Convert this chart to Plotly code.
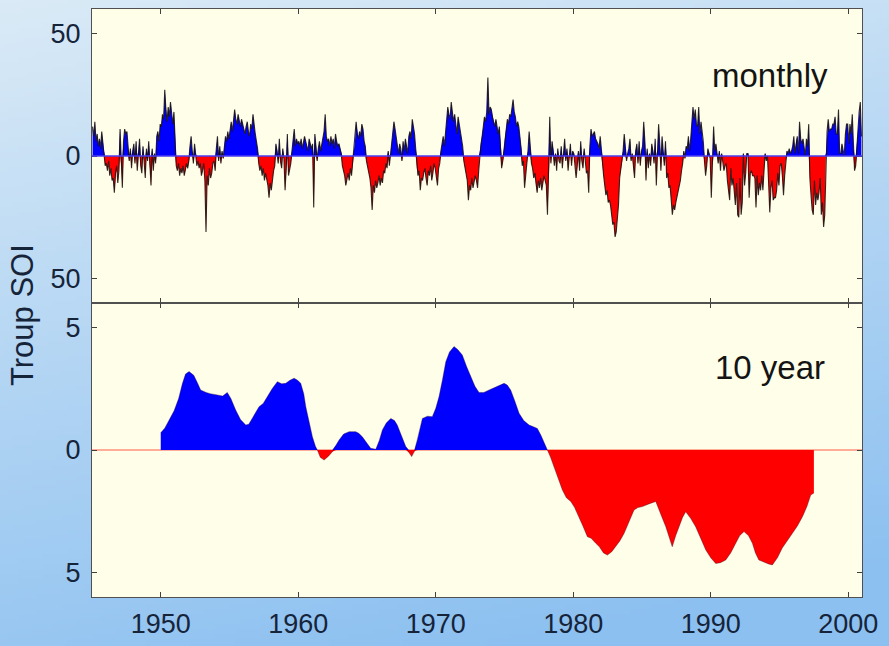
import zlib, struct, base64
import numpy as np
import plotly.graph_objects as go
from plotly.subplots import make_subplots

# ---------------- data ----------------
start_year = 1945
soi_1940s = [
    12, 8, 14, 6, 9, 4, 7, 3, 10, 5, 2, -4,            # 1945
    -3, -6, -2, -8, -5, -10, -9, -15, -7, -4, -11, -6,  # 1946
    11, -4, -13, 6, 11, 9, 10, 4, -2, 3, -5, 2,         # 1947
    5, -3, 6, -6, 2, 7, -4, -7, 4, -2, -9, 3,           # 1948
    -2, 6, -5, -12, 3, -6, 1, -3, 8, 10, 6, 13,         # 1949
]
soi_1950s = [
    12, 17, 15, 27, 19, 14, 20, 16, 22, 17, 13, 18,
    5, -4, -6, -3, -8, -5, -7, -4, -8, -6, -3, -5,
    -2, 4, 8, 2, -3, 5, 1, -4, -2, -5, -3, -8,
    -6, -3, -10, -31, -8, -12, -5, -9, -7, -3, -2, -6,
    3, 8, -2, 4, -3, 2, -1, 5, 8, 6, 10, 7,
    12, 14, 10, 16, 19, 15, 13, 17, 14, 12, 15, 13,
    11, 9, 12, 14, 10, 8, 13, 11, 17, 12, 9, 6,
    3, -3, -6, -4, -8, -5, -10, -7, -9, -12, -17, -11,
    -14, -9, -6, -4, 5, 2, -3, 7, -2, -5, 3, -1,
    -14, -5, 9, -8, -6, -3, 2, 6, 11, 4, 7, 5,
]
soi_1960s = [
    6, 4, 7, 3, 5, 8, 6, 4, 2, 7, 5, 3,
    5, -21, 9, 4, -2, 3, 6, 2, 5, 8, 10, 17,
    8, 6, 7, 4, 8, 5, 7, 3, 9, 6, 4, 5,
    3, 1, -4, -6, -8, -12, -9, -7, -10, -5, -8, -3,
    2, 6, 14, 9, 7, 10, 8, 13, 11, 6, 4, -2,
    -4, -6, -9, -13, -22, -12, -15, -10, -13, -11, -8, -12,
    -9, -11, -6, -7, -3, -5, 2, -4, 1, 6, 10, 14,
    11, 8, 4, 1, 5, 3, -2, 6, 2, 7, 4, 1,
    8, 10, 7, 15, 12, 9, 3, -5, -8, -6, -14, -9,
    -10, -7, -5, -9, -12, -6, -8, -4, -10, -7, -3, -5,
]
soi_1970s = [
    -8, -12, -5, -3, 2, 5, 8, 4, 10, 14, 20, 17,
    15, 22, 18, 14, 17, 13, 9, 16, 12, 10, 7, 4,
    -2, -5, -8, -10, -18, -12, -14, -9, -13, -11, -8, -10,
    -13, -6, 2, 5, 8, 12, 16, 14, 18, 32, 17, 20,
    19, 16, 14, 12, 15, 11, 9, 12, 4, -5, -2, 3,
    8, 12, 15, 13, 17, 16, 20, 23, 18, 16, 12, 14,
    12, 8, 3, -4, -2, -13, -6, -3, 2, 10, 4, -3,
    -5, -9, -7, -12, -15, -10, -13, -9, -14, -11, -8, -10,
    -12, -24, -8, 16, -3, 6, 2, -4, 1, -6, 3, -2,
    -3, 4, -5, 1, 7, -2, 3, -6, -1, 5, -4, 2,
]
soi_1980s = [
    1, -3, -9, -4, 2, -6, 6, -2, -5, 3, -1, -7,
    -6, -15, 4, 11, 8, 9, 10, 7, 6, 5, 3, 8,
    3, -4, -8, -12, -16, -14, -19, -18, -20, -24, -28, -27,
    -33, -31, -26, -20, -9, -5, -3, 2, 9, 4, -2, 1,
    3, 7, -2, 1, -5, -9, 2, 5, -3, 6, -4, 2,
    4, 14, 6, -10, 3, -5, 1, -4, 5, 2, -3, 7,
    -12, 3, 13, 5, -6, 8, 2, -4, 6, -9, -7, -13,
    -12, -18, -24, -20, -22, -19, -17, -15, -13, -10, -6, -3,
    2, -1, 4, 3, 8, 2, 7, 14, 20, 15, 19, 13,
    12, 20, 9, 14, 10, 6, -2, -8, -4, 3, 1, -1,
]
soi_1990s = [
    -17, -4, 12, 2, 5, 1, -3, 2, -6, 1, -2, -6,
    -4, -3, -10, -15, -18, -5, -12, -9, -17, -20, -11, -24,
    -25, -9, -24, -19, 1, -12, -7, 1, 1, -17, -7, -6,
    -8, -8, -9, -21, -8, -16, -11, -14, -8, -14, -6, 1,
    -2, 0, -11, -23, -13, -10, -18, -17, -17, -14, -7, -12,
    -4, -3, -8, -16, -8, -2, 2, 1, 3, 1, 2, 4,
    8, 1, 6, 8, 1, 14, 7, 5, 7, 4, 0, 7,
    4, 13, -9, -16, -22, -24, -10, -20, -15, -18, -15, -9,
    -24, -19, -29, -24, 1, 10, 15, 10, 11, 11, 13, 13,
    16, 9, 9, 19, 1, 1, 5, 2, 0, 9, 13, 13,
]
soi_2000s = [
    5, 13, 9, 17, 4, -6, -4, 5, 10, 18, 22, 8,
]

decadal_years = [
    1950.0, 1950.3, 1950.97, 1951.3, 1951.57, 1951.8, 1952.06, 1952.4, 1952.7, 1952.9,
    1953.3, 1953.6, 1954.1, 1954.5, 1954.84, 1955.1, 1955.45, 1955.8, 1956.18, 1956.4,
    1956.66, 1957.15, 1957.45, 1957.75, 1958.1, 1958.48, 1958.8, 1959.09, 1959.4, 1959.7,
    1959.95, 1960.18, 1960.4, 1960.55, 1960.8, 1961.03, 1961.25, 1961.39, 1961.6, 1961.88,
    1962.2, 1962.48, 1962.75, 1962.97, 1963.3, 1963.7, 1964.18, 1964.4, 1964.66, 1964.95,
    1965.27, 1965.64, 1965.9, 1966.12, 1966.4, 1966.73, 1967.0, 1967.2, 1967.5, 1967.82,
    1968.05, 1968.25, 1968.45, 1968.66, 1968.85, 1969.03, 1969.4, 1969.75, 1970.0, 1970.24,
    1970.5, 1970.73, 1971.0, 1971.33, 1971.6, 1971.93, 1972.25, 1972.55, 1972.85, 1973.15,
    1973.5, 1973.88, 1974.25, 1974.6, 1974.97, 1975.2, 1975.45, 1975.75, 1976.06, 1976.4,
    1976.79, 1977.1, 1977.39, 1977.65, 1977.88, 1978.12, 1978.35, 1978.6, 1978.9, 1979.21,
    1979.5, 1979.82, 1980.1, 1980.42, 1980.7, 1981.03, 1981.3, 1981.64, 1981.9, 1982.2,
    1982.48, 1982.8, 1983.09, 1983.4, 1983.7, 1984.05, 1984.42, 1984.7, 1985.03, 1985.5,
    1986.0, 1986.35, 1986.73, 1987.0, 1987.2, 1987.45, 1987.7, 1987.95, 1988.18, 1988.55,
    1988.9, 1989.25, 1989.64, 1990.0, 1990.36, 1990.7, 1991.09, 1991.45, 1991.82, 1992.1,
    1992.42, 1992.75, 1993.03, 1993.25, 1993.5, 1993.9, 1994.2, 1994.48, 1994.85, 1995.2,
    1995.6, 1995.94, 1996.3, 1996.67, 1997.0, 1997.27, 1997.5,
]
decadal_values = [
    0.7, 0.9, 1.6, 2.1, 2.7, 3.1, 3.2, 3.05, 2.7, 2.45,
    2.35, 2.3, 2.25, 2.2, 2.35, 2.1, 1.63, 1.25, 1.02, 1.05,
    1.3, 1.77, 1.9, 2.18, 2.5, 2.79, 2.7, 2.72, 2.85, 2.93,
    2.85, 2.72, 2.3, 1.77, 1.1, 0.54, 0.15, 0.0, -0.3, -0.41,
    -0.25, -0.07, 0.2, 0.41, 0.65, 0.75, 0.75, 0.68, 0.54, 0.3,
    0.07, 0.03, 0.4, 0.82, 1.1, 1.29, 1.2, 1.02, 0.6, 0.14,
    -0.1, -0.27, -0.05, 0.41, 0.9, 1.29, 1.38, 1.36, 1.7, 2.18,
    2.9, 3.6, 4.0, 4.22, 4.1, 3.88, 3.4, 2.99, 2.6, 2.35,
    2.35, 2.45, 2.55, 2.65, 2.72, 2.65, 2.45, 2.0, 1.5, 1.2,
    1.02, 0.95, 0.88, 0.6, 0.27, 0.0, -0.3, -0.68, -1.1, -1.63,
    -1.95, -2.1, -2.35, -2.72, -3.1, -3.54, -3.6, -3.81, -3.95, -4.2,
    -4.29, -4.15, -3.95, -3.7, -3.4, -2.9, -2.45, -2.35, -2.31, -2.2,
    -2.1, -2.6, -3.13, -3.6, -3.95, -3.5, -3.13, -2.75, -2.52, -2.8,
    -3.13, -3.6, -4.08, -4.4, -4.63, -4.6, -4.49, -4.2, -3.81, -3.5,
    -3.33, -3.5, -3.81, -4.2, -4.49, -4.6, -4.65, -4.69, -4.4, -4.0,
    -3.7, -3.4, -3.1, -2.72, -2.3, -1.84, -1.75,
]

x_ticks = [1950, 1960, 1970, 1980, 1990, 2000]
top_tickvals = [-50, 0, 50]
top_ticktext = ["50", "0", "50"]
bot_tickvals = [-5, 0, 5]
bot_ticktext = ["5", "0", "5"]

# ---------------- derived ----------------
soi = np.array(soi_1940s + soi_1950s + soi_1960s + soi_1970s + soi_1980s + soi_1990s + soi_2000s, float)
t = start_year + np.arange(len(soi)) / 12.0 + 1 / 24.0
dy = np.array(decadal_years)
dv = np.array(decadal_values)

BLUE = "#0000ff"
RED = "#ff0000"
FONT = "Liberation Sans, Arial, Helvetica, sans-serif"
TXT = "#16243a"


def gradient_png(w, h):
    c0 = np.array([218, 234, 246], float)
    c1 = np.array([140, 192, 240], float)
    raw = bytearray()
    for j in range(h):
        raw.append(0)
        v = j / (h - 1)
        for i in range(w):
            u = i / (w - 1)
            s = min(1.0, 0.85 * v + 0.25 * u)
            c = c0 + (c1 - c0) * s
            raw.extend(bytes(int(round(k)) for k in c))

    def chunk(tag, data):
        body = tag + data
        return struct.pack(">I", len(data)) + body + struct.pack(">I", zlib.crc32(body) & 0xFFFFFFFF)

    png = (b"\x89PNG\r\n\x1a\n"
           + chunk(b"IHDR", struct.pack(">IIBBBBB", w, h, 8, 2, 0, 0, 0))
           + chunk(b"IDAT", zlib.compress(bytes(raw), 9))
           + chunk(b"IEND", b""))
    return "data:image/png;base64," + base64.b64encode(png).decode()


fig = make_subplots(rows=2, cols=1, shared_xaxes=True, vertical_spacing=0)

# monthly
fig.add_trace(go.Scatter(x=t, y=np.maximum(soi, 0), mode="lines", line=dict(width=0, color=BLUE),
                         fill="tozeroy", fillcolor=BLUE, hoverinfo="skip"), row=1, col=1)
fig.add_trace(go.Scatter(x=t, y=np.minimum(soi, 0), mode="lines", line=dict(width=0, color=RED),
                         fill="tozeroy", fillcolor=RED, hoverinfo="skip"), row=1, col=1)
fig.add_trace(go.Scatter(x=t, y=soi, mode="lines", line=dict(width=1.1, color="rgba(20,10,10,0.85)")),
              row=1, col=1)

# 10 year
fig.add_trace(go.Scatter(x=dy, y=np.maximum(dv, 0), mode="lines", line=dict(width=0, color=BLUE),
                         fill="tozeroy", fillcolor=BLUE, hoverinfo="skip"), row=2, col=1)
fig.add_trace(go.Scatter(x=dy, y=np.minimum(dv, 0), mode="lines", line=dict(width=0, color=RED),
                         fill="tozeroy", fillcolor=RED, hoverinfo="skip"), row=2, col=1)
fig.add_trace(go.Scatter(x=dy, y=dv, mode="lines", line=dict(width=0.8, color="rgba(40,0,40,0.45)")),
              row=2, col=1)

axis_common = dict(ticks="inside", ticklen=5, tickwidth=1, tickcolor="#404040", showline=True,
                   linecolor="#505050", linewidth=1, mirror="ticks", showgrid=False, zeroline=False,
                   automargin=False, tickfont=dict(family=FONT, size=27, color=TXT))
fig.update_xaxes(range=[1945, 2001], tickvals=x_ticks, **axis_common)
fig.update_xaxes(showticklabels=False, row=1, col=1)
fig.update_xaxes(ticklabelstandoff=3, row=2, col=1)
fig.update_yaxes(range=[-60, 60], tickvals=top_tickvals, ticktext=top_ticktext, ticklabelstandoff=5,
                 row=1, col=1, **axis_common)
fig.update_yaxes(range=[-6, 6], tickvals=bot_tickvals, ticktext=bot_ticktext, ticklabelstandoff=5,
                 row=2, col=1, **axis_common)

shapes = [
    dict(type="rect", xref="x domain", yref="y domain", x0=0, x1=1, y0=0, y1=1,
         fillcolor="#fefee9", line=dict(width=0), layer="below"),
    dict(type="rect", xref="x2 domain", yref="y2 domain", x0=0, x1=1, y0=0, y1=1,
         fillcolor="#fefee9", line=dict(width=0), layer="below"),
    dict(type="line", xref="x domain", yref="y", x0=0, x1=1, y0=0, y1=0,
         line=dict(color="#4a3cf0", width=1.5), layer="above"),
    dict(type="line", xref="x2 domain", yref="y2", x0=0, x1=1, y0=0, y1=0,
         line=dict(color="#ff5a4a", width=1.2), layer="below"),
]

W, H = 889, 646
ml, mr, mt, mb = 92, 27, 9, 49
pw, ph = W - ml - mr, H - mt - mb

fig.update_layout(
    width=W, height=H, margin=dict(l=ml, r=mr, t=mt, b=mb, autoexpand=False),
    paper_bgcolor="#b4d6f2", plot_bgcolor="#fefee9", showlegend=False,
    shapes=shapes,
    images=[dict(source=gradient_png(180, 130), xref="paper", yref="paper",
                 x=-ml / pw, y=1 + mt / ph, sizex=W / pw, sizey=H / ph,
                 xanchor="left", yanchor="top", sizing="stretch", layer="below")],
    annotations=[
        dict(text="monthly", x=1994.3, y=33, xref="x", yref="y", showarrow=False,
             font=dict(family=FONT, size=33, color="#141414")),
        dict(text="10 year", x=1994.3, y=3.35, xref="x2", yref="y2", showarrow=False,
             font=dict(family=FONT, size=33, color="#141414")),
        dict(text="Troup SOI", x=(22 - ml) / pw, y=(H - mb - 315) / ph, xref="paper", yref="paper",
             textangle=-90, showarrow=False, xanchor="center", yanchor="middle",
             font=dict(family=FONT, size=31, color=TXT)),
    ],
)

fig.write_html("out.html", config={"displayModeBar": False},
               post_script="document.body.style.margin='0';document.body.style.overflow='hidden';")
